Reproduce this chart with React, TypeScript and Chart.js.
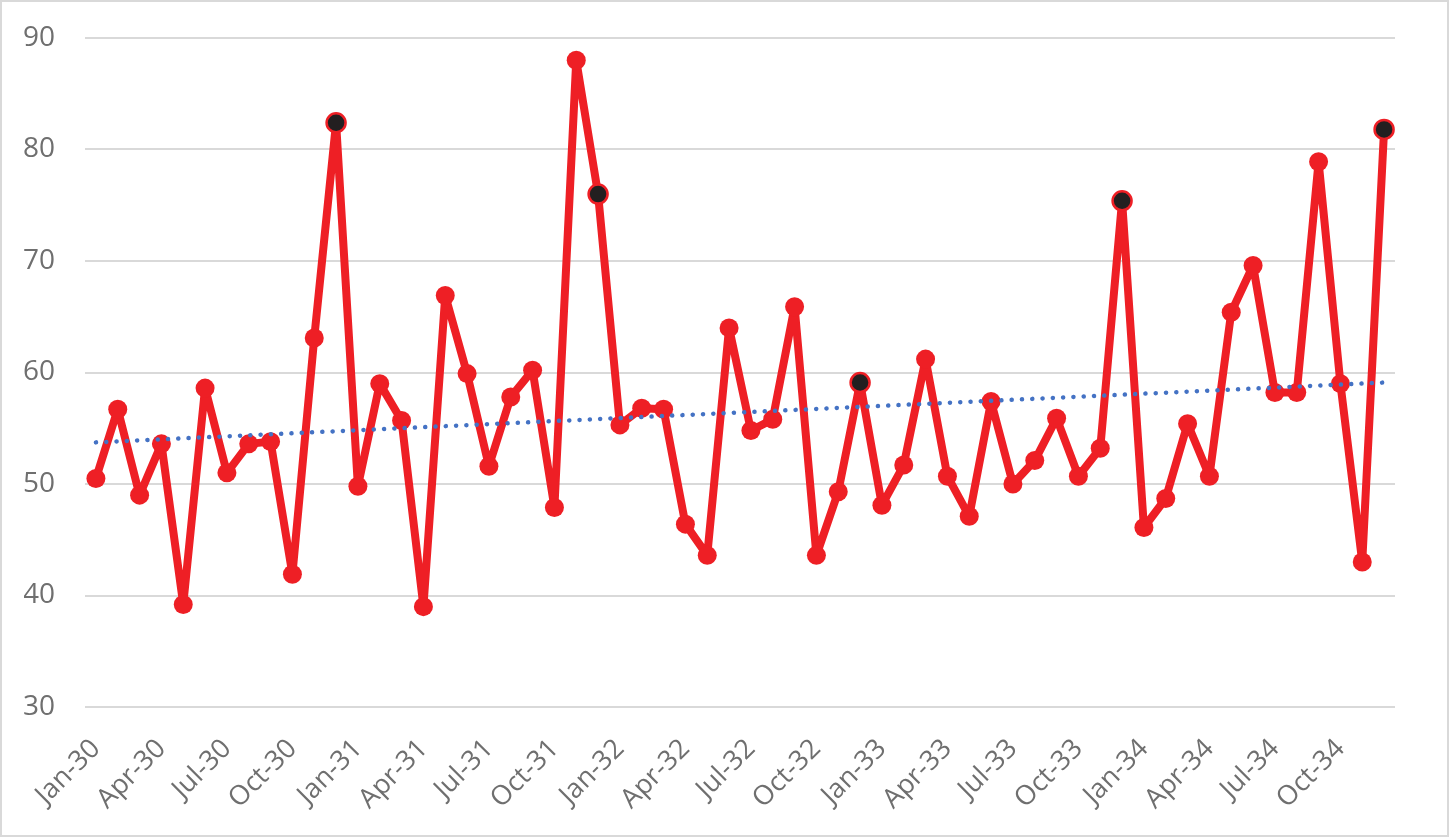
import { useEffect, useRef } from "react";
import { Chart, registerables } from "chart.js";

Chart.register(...registerables);

const months = ["Jan", "Feb", "Mar", "Apr", "May", "Jun", "Jul", "Aug", "Sep", "Oct", "Nov", "Dec"];
const years = ["30", "31", "32", "33", "34"];
const categories = years.flatMap((y) => months.map((m) => `${m}-${y}`));

const values = [
  50.5, 56.7, 49.0, 53.6, 39.2, 58.6, 51.0, 53.6, 53.8, 41.9, 63.1, 82.4,
  49.8, 59.0, 55.7, 39.0, 66.9, 59.9, 51.6, 57.8, 60.2, 47.9, 88.0, 76.0,
  55.3, 56.8, 56.7, 46.4, 43.6, 64.0, 54.8, 55.8, 65.9, 43.6, 49.3, 59.1,
  48.1, 51.7, 61.2, 50.7, 47.1, 57.4, 50.0, 52.1, 55.9, 50.7, 53.2, 75.4,
  46.1, 48.7, 55.4, 50.7, 65.4, 69.6, 58.2, 58.2, 78.9, 59.0, 43.0, 81.8,
];

const yTicks = [30, 40, 50, 60, 70, 80, 90];

// linear trendline (least squares) over the series, like Excel's
function trend(v: number[]) {
  const n = v.length;
  const mx = (n - 1) / 2;
  const my = v.reduce((a, b) => a + b, 0) / n;
  let num = 0;
  let den = 0;
  v.forEach((y, i) => {
    num += (i - mx) * (y - my);
    den += (i - mx) * (i - mx);
  });
  const slope = num / den;
  return v.map((_, i) => my + slope * (i - mx));
}

const RED = "#EE1F25";
const DARK = "#231F20";
const BLUE = "#4472C4";
const TEXT = "#6F6F6F";
const FONT = "'Open Sans', sans-serif";

export default function App() {
  const chartRef = useRef<HTMLCanvasElement | null>(null);

  useEffect(() => {
    document.body.style.margin = "0";
    const canvas = chartRef.current;
    if (!canvas) return;

    const isDec = (i: number) => i % 12 === 11;
    // keep the plot area where the reference has it, not pushed by label overhang
    const noPad = (scale: any) => {
      scale.paddingLeft = 0;
      scale.paddingRight = 0;
      scale.paddingTop = 0;
      scale.paddingBottom = 0;
    };

    const chart = new Chart(canvas, {
      type: "line",
      data: {
        labels: categories,
        datasets: [
          {
            label: "Trend",
            data: trend(values),
            borderColor: BLUE,
            borderWidth: 4.5,
            borderDash: [0.1, 10.2],
            borderCapStyle: "round",
            pointRadius: 0,
            fill: false,
            order: 0,
          },
          {
            label: "Series",
            data: values,
            borderColor: RED,
            borderWidth: 8,
            borderJoinStyle: "round",
            pointRadius: 9.5,
            pointBorderWidth: (ctx: any) => (isDec(ctx.dataIndex) ? 2.5 : 0),
            pointBackgroundColor: (ctx: any) => (isDec(ctx.dataIndex) ? DARK : RED),
            pointBorderColor: RED,
            fill: false,
            order: 1,
          },
        ],
      },
      options: {
        animation: false,
        responsive: true,
        maintainAspectRatio: false,
        layout: { padding: { top: 36, left: 22, right: 52, bottom: 18 } },
        plugins: { legend: { display: false }, tooltip: { enabled: false } },
        scales: {
          x: {
            offset: true,
            afterFit: (scale: any) => {
              noPad(scale);
              scale.height = 110;
            },
            grid: { display: false, drawTicks: false },
            border: { display: false },
            ticks: {
              autoSkip: false,
              maxRotation: 45,
              minRotation: 45,
              padding: 26,
              color: TEXT,
              font: { family: FONT, size: 27 },
              callback: (_v: any, i: number) => (i % 3 === 0 ? categories[i] : ""),
            },
          },
          y: {
            min: yTicks[0],
            max: yTicks[yTicks.length - 1],
            afterFit: (scale: any) => {
              noPad(scale);
              scale.width = 61;
            },
            afterBuildTicks: (axis: any) => {
              axis.ticks = yTicks.map((v) => ({ value: v }));
            },
            grid: { color: "#D9D9D9", lineWidth: 2, drawTicks: false },
            border: { display: false },
            ticks: {
              padding: 30,
              color: TEXT,
              font: { family: FONT, size: 28 },
            },
          },
        },
      },
    });

    return () => {
      chart.destroy();
    };
  }, []);

  return (
    <div
      style={{
        position: "absolute",
        left: 0,
        top: 0,
        width: 1449,
        height: 837,
        boxSizing: "border-box",
        border: "2px solid #D9D9D9",
        background: "#fff",
      }}
    >
      <canvas ref={chartRef}></canvas>
    </div>
  );
}
